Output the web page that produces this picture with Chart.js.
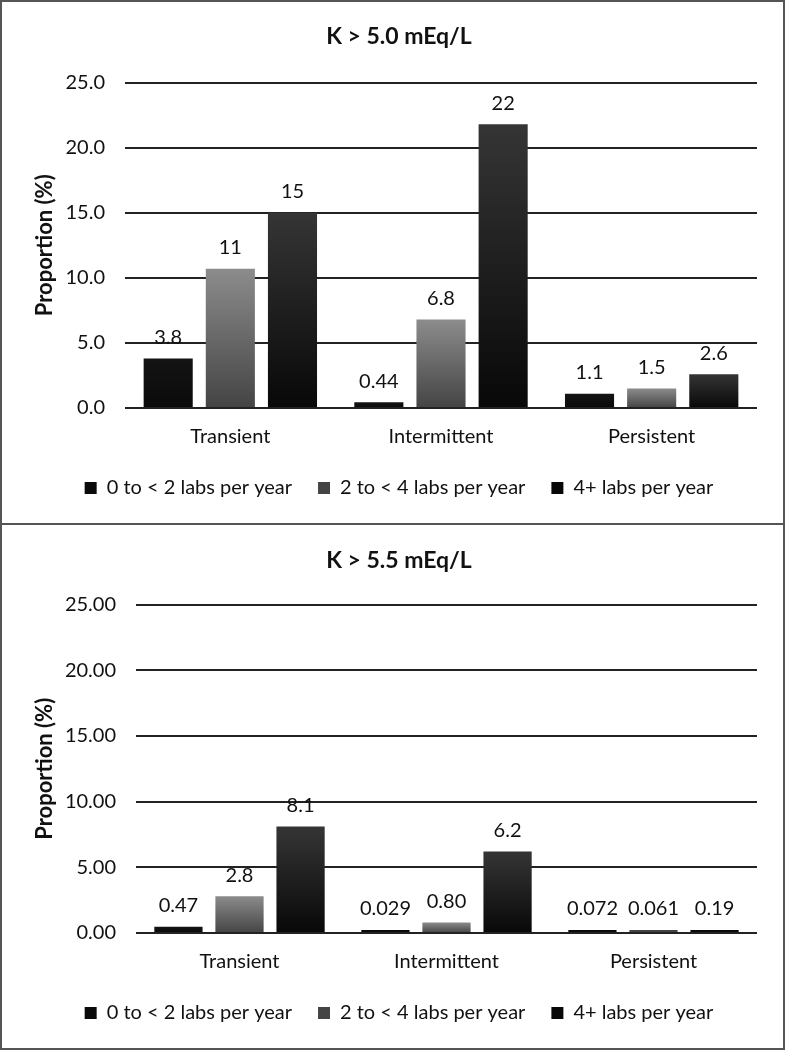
<!DOCTYPE html>
<html>
<head>
<meta charset="utf-8">
<script src="https://cdn.jsdelivr.net/npm/chart.js@4"></script>
<style>
  body { margin: 0; background: #fff; }
  .panel {
    position: absolute;
    left: 0;
    width: 785px;
    box-sizing: border-box;
    border: 2px solid #555;
    background: #fff;
  }
  #p1 { top: 0; height: 525px; }
  #p2 { top: 523px; height: 527px; }
  canvas { display: block; }
</style>
</head>
<body>
<div class="panel" id="p1"><canvas id="chart-k50" width="781" height="521"></canvas></div>
<div class="panel" id="p2"><canvas id="chart-k55" width="781" height="523"></canvas></div>
<script>
var categories = ["Transient", "Intermittent", "Persistent"];
var seriesNames = ["0 to < 2 labs per year", "2 to < 4 labs per year", "4+ labs per year"];

// K > 5.0 mEq/L
var k50Low = [3.8, 0.44, 1.1];
var k50Mid = [10.7, 6.8, 1.5];
var k50High = [15.0, 21.8, 2.6];

// K > 5.5 mEq/L
var k55Low = [0.47, 0.029, 0.072];
var k55Mid = [2.8, 0.80, 0.061];
var k55High = [8.1, 6.2, 0.19];

var yTicks = [0, 5, 10, 15, 20, 25];

var FONT = "Lato, 'Open Sans', sans-serif";
var TEXT = "#111";

// solid colour for legend, gradient top/bottom for bars
var barColors = [
  { solid: "#111111", top: "#141414", bottom: "#0a0a0a" },
  { solid: "#6e6e6e", top: "#8c8c8c", bottom: "#444444" },
  { solid: "#262626", top: "#353535", bottom: "#080808" },
];

function barFill(idx) {
  return function (ctx) {
    var c = barColors[idx];
    if (ctx.type !== "data" || !ctx.parsed) return c.solid;
    var y = ctx.chart.scales.y;
    var top = y.getPixelForValue(ctx.parsed.y);
    var base = y.getPixelForValue(0);
    if (!isFinite(top) || base - top < 4) return c.bottom;
    var g = ctx.chart.ctx.createLinearGradient(0, top, 0, base);
    g.addColorStop(0, c.top);
    g.addColorStop(1, c.bottom);
    return g;
  };
}

var valueLabels = {
  id: "valueLabels",
  afterDatasetsDraw: function (chart) {
    var ctx = chart.ctx;
    ctx.save();
    ctx.font = "20px " + FONT;
    ctx.fillStyle = TEXT;
    ctx.textAlign = "center";
    ctx.textBaseline = "bottom";
    chart.data.datasets.forEach(function (ds, i) {
      var meta = chart.getDatasetMeta(i);
      meta.data.forEach(function (bar, j) {
        ctx.fillText(ds.data[j].toPrecision(2), bar.x, bar.y - 11);
      });
    });
    ctx.restore();
  },
};

function createChart(id, title, low, mid, high, decimals, yWidth, lay) {
  var ctx = document.getElementById(id).getContext("2d");
  var sets = [low, mid, high];

  new Chart(ctx, {
    type: "bar",
    data: {
      labels: categories,
      datasets: sets.map(function (vals, i) {
        return {
          label: seriesNames[i],
          data: vals,
          backgroundColor: barFill(i),
          borderWidth: 0,
          minBarLength: 3,
          categoryPercentage: 0.885,
          barPercentage: 0.79,
        };
      }),
    },
    options: {
      responsive: false,
      animation: false,
      maintainAspectRatio: false,
      layout: { padding: { left: 13, right: 0, top: 0, bottom: lay.legendBottom } },
      scales: {
        x: {
          afterFit: function (scale) {
            scale.height = lay.xHeight;
          },
          grid: { display: false, drawTicks: false },
          border: { display: false },
          ticks: {
            color: TEXT,
            padding: 17,
            font: { family: FONT, size: 20 },
          },
        },
        y: {
          min: 0,
          max: 25,
          afterBuildTicks: function (scale) {
            scale.ticks = yTicks.map(function (v) { return { value: v }; });
          },
          afterFit: function (scale) {
            scale.width = yWidth;
          },
          grid: { color: "#222", lineWidth: 2, drawTicks: false },
          border: { display: false },
          ticks: {
            color: TEXT,
            padding: 20,
            font: { family: FONT, size: 20 },
            callback: function (v) { return Number(v).toFixed(decimals); },
          },
          title: {
            display: true,
            text: "Proportion (%)",
            color: TEXT,
            padding: { top: 17, bottom: 0 },
            font: { family: FONT, size: 22, weight: "bold" },
          },
        },
        // empty right margin so the legend and title centre on the whole panel
        pad: {
          type: "linear",
          position: "right",
          grid: { display: false },
          border: { display: false },
          ticks: { display: false },
          afterFit: function (scale) {
            scale.width = 26;
          },
        },
      },
      plugins: {
        title: {
          display: true,
          text: title,
          color: TEXT,
          padding: { top: lay.titleTop, bottom: lay.titleBottom },
          font: { family: FONT, size: 23, weight: "bold" },
        },
        legend: {
          position: "bottom",
          labels: {
            color: TEXT,
            boxWidth: 12,
            boxHeight: 12,
            padding: 26,
            font: { family: FONT, size: 20 },
          },
        },
        tooltip: { enabled: false },
      },
    },
    plugins: [valueLabels],
  });
}

createChart("chart-k50", "K > 5.0 mEq/L", k50Low, k50Mid, k50High, 1, 110,
  { titleTop: 21, titleBottom: 32, legendBottom: 15, xHeight: 44 });
createChart("chart-k55", "K > 5.5 mEq/L", k55Low, k55Mid, k55High, 2, 121,
  { titleTop: 22, titleBottom: 30, legendBottom: 15, xHeight: 44 });
</script>
</body>
</html>
